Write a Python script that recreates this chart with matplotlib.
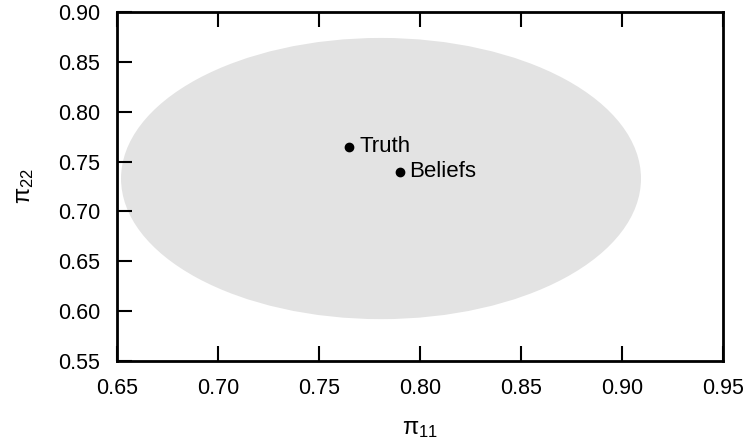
import matplotlib
matplotlib.use('Agg')
import matplotlib.pyplot as plt
from matplotlib.patches import Ellipse

plt.rcParams['font.family'] = ['Liberation Sans', 'DejaVu Sans']
plt.rcParams['mathtext.fontset'] = 'custom'
plt.rcParams['mathtext.rm'] = 'Liberation Sans'
plt.rcParams['mathtext.it'] = 'Liberation Sans'

# region de confiance (ellipse)
ell_center = (0.7807, 0.733)
ell_width = 0.2574
ell_height = 0.282

# points
names = ['Truth', 'Beliefs']
pi11 = [0.765, 0.79]
pi22 = [0.765, 0.74]

xticks = [0.65, 0.70, 0.75, 0.80, 0.85, 0.90, 0.95]
yticks = [0.55, 0.60, 0.65, 0.70, 0.75, 0.80, 0.85, 0.90]

fig = plt.figure(figsize=(7.48, 4.40), dpi=100)
ax = fig.add_axes([0.1564, 0.1795, 0.8102, 0.7932])

ax.add_patch(Ellipse(ell_center, ell_width, ell_height, facecolor='#e3e3e3', edgecolor='none'))
ax.plot(pi11, pi22, 'o', color='black', markersize=6)
for n, x, y in zip(names, pi11, pi22):
    ax.annotate(n, (x, y), xytext=(7, 0), textcoords='offset points',
                va='center', ha='left', fontsize=16)

ax.set_xlim(0.65, 0.95)
ax.set_ylim(0.55, 0.90)
ax.set_xticks(xticks)
ax.set_yticks(yticks)
ax.set_xticklabels(['%.2f' % v for v in xticks])
ax.set_yticklabels(['%.2f' % v for v in yticks])
ax.tick_params(direction='in', length=11, width=1.5, labelsize=15.5, pad=12,
               top=True, right=False)
ax.tick_params(axis='x', labeltop=False)
for s in ax.spines.values():
    s.set_linewidth(2)

ax.set_xlabel(r'$\pi_{11}$', fontsize=17, labelpad=14)
ax.set_ylabel(r'$\pi_{22}$', fontsize=17, labelpad=16)

fig.savefig('out.png', dpi=100)
